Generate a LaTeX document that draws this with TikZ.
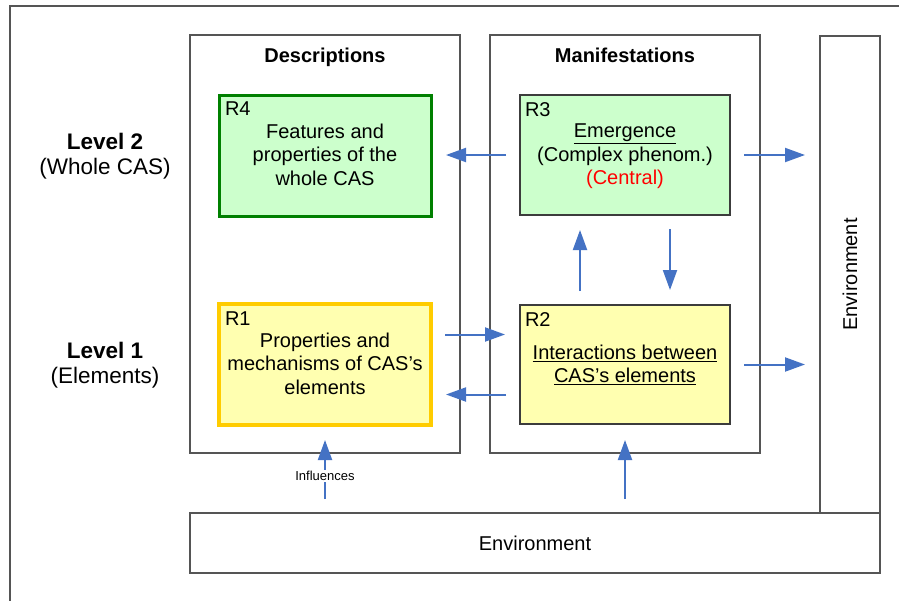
\documentclass[tikz,border=0pt]{standalone}
\usepackage{fontspec}
\setmainfont{Liberation Sans}
\usetikzlibrary{arrows.meta,calc}

\definecolor{flowblue}{RGB}{68,114,196}
\definecolor{greenfill}{RGB}{204,255,204}
\definecolor{yellowfill}{RGB}{255,255,176}
\definecolor{darkgreen}{RGB}{0,128,0}
\definecolor{goldline}{RGB}{255,204,0}
\definecolor{framegray}{RGB}{85,85,85}
\definecolor{boxgray}{RGB}{60,60,60}

\begin{document}
\begin{tikzpicture}[x=1pt,y=-1pt,
  every node/.style={inner sep=0pt,outer sep=0pt},
  panel/.style={draw=framegray,line width=1.3pt,fill=white},
  region/.style={draw=boxgray,line width=1.2pt},
  boxtext/.style={align=center,font=\fontsize{20}{23.6}\selectfont},
  tag/.style={anchor=base west,font=\fontsize{20}{23}\selectfont},
  header/.style={anchor=base,font=\fontsize{20}{23}\selectfont\bfseries},
  levellabel/.style={align=center,font=\fontsize{22.5}{25}\selectfont},
  flow/.style={draw=flowblue,line width=2pt,
    -{Triangle[length=20pt,width=14pt,fill=flowblue]},
    shorten <=14pt,shorten >=15pt},
]
\useasboundingbox (0,0) rectangle (899,600);

% page frame (only its top and left edges fall inside the page)
\draw[framegray,line width=1.2pt] (10,610) -- (10,6) -- (910,6);

% column panels and environment bars
\node[panel,minimum width=270pt,minimum height=418pt] (desc) at (325,244) {};
\node[panel,minimum width=270pt,minimum height=418pt] (manif) at (625,244) {};
\node[panel,minimum width=60pt,minimum height=477pt] (envr) at (850,274.5) {};
\node[panel,minimum width=690pt,minimum height=60pt] (envb) at (535,543) {};
\node[rotate=90,font=\fontsize{20}{23}\selectfont] (envrt) at (envr) {Environment};
\node[font=\fontsize{20}{23}\selectfont] (envbt) at (envb) {Environment};

\node[header] (hdesc) at ($(desc.north)+(0,27)$) {Descriptions};
\node[header] (hmanif) at ($(manif.north)+(0,27)$) {Manifestations};

% level labels
\node[levellabel] (lv2) at (105,156) {\textbf{Level 2}\\(Whole CAS)};
\node[levellabel] (lv1) at (105,365) {\textbf{Level 1}\\(Elements)};

% the four regions
\node[region,draw=darkgreen,line width=3pt,fill=greenfill,
  minimum width=212pt,minimum height=121pt] (r4) at (325,155.5) {};
\node[region,fill=greenfill,minimum width=210pt,minimum height=120pt] (r3) at (625,155) {};
\node[region,draw=goldline,line width=3.5pt,fill=yellowfill,
  minimum width=212pt,minimum height=121pt] (r1) at (325,364.5) {};
\node[region,fill=yellowfill,minimum width=210pt,minimum height=119pt] (r2) at (625,364.5) {};

\node[tag] (t4) at ($(r4.north west)+(6,20)$) {R4};
\node[tag] (t3) at ($(r3.north west)+(5,21)$) {R3};
\node[tag] (t1) at ($(r1.north west)+(6,21)$) {R1};
\node[tag] (t2) at ($(r2.north west)+(5,21)$) {R2};

\node[boxtext] (r4t) at ($(r4)+(0,-1)$) {Features and\\properties of the\\whole CAS};
\node[boxtext] (r3t) at ($(r3)+(0,1.5)$) {\underline{Emergence}\\(Complex phenom.)\\\textcolor{red}{(Central)}};
\node[boxtext] (r1t) at ($(r1)+(0,-1)$) {Properties and\\mechanisms of CAS’s\\elements};
\node[boxtext] (r2t) at ($(r2)+(0,0.5)$) {\underline{Interactions between}\\\underline{CAS’s elements}};

% flows between regions
\coordinate (a12) at ($(r1.east)+(0,-30)$);
\coordinate (a21) at ($(r2.west)+(0,30)$);
\coordinate (a23) at ($(r2.north)+(-45,0)$);
\coordinate (a32) at ($(r3.south)+(45,0)$);

\draw[flow] (r3.west) -- (r3.west -| r4.east);
\draw[flow] (r3.east) -- (r3.east -| envr.west);
\draw[flow] (a12) -- (a12 -| r2.west);
\draw[flow] (a21) -- (a21 -| r1.east);
\draw[flow] (r2.east) -- (r2.east -| envr.west);
\draw[flow] (a23) -- (a23 |- r3.south);
\draw[flow] (a32) -- (a32 |- r2.north);

% influences from the environment, reaching into the panels
\draw[flow,shorten >=-13pt] (envb.north -| desc.south) -- (desc.south)
  node[pos=0.62,fill=white,inner sep=1.5pt,font=\fontsize{13}{15}\selectfont] (infl) {Influences};
\draw[flow,shorten >=-13pt] (envb.north -| manif.south) -- (manif.south);
\end{tikzpicture}
\end{document}
